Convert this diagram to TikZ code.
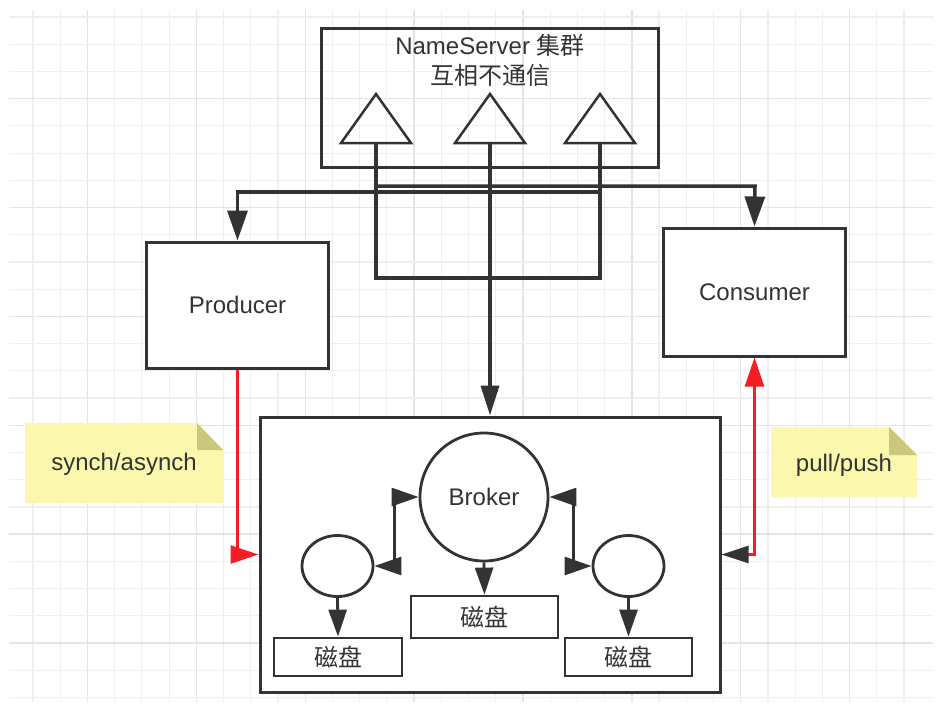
\documentclass[tikz,border=0pt]{standalone}
\usepackage{fontspec}
\setmainfont{Liberation Sans}
\newfontfamily\cjk{Noto Sans CJK SC}
\usetikzlibrary{arrows.meta,shapes.geometric,calc}
\definecolor{ink}{HTML}{333333}
\definecolor{gridminor}{HTML}{EFEFF3}
\definecolor{gridmajor}{HTML}{E3E3E9}
\definecolor{notefill}{HTML}{FBF8AE}
\definecolor{notefold}{HTML}{CAC87C}
\definecolor{redline}{HTML}{F41E25}
\begin{document}
\begin{tikzpicture}[x=1pt,y=-1pt,
  txt/.style={font=\fontsize{24}{30}\selectfont, text=ink, align=center},
  box/.style={draw=ink, line width=3pt, fill=white, inner sep=0pt, txt},
  nsbox/.style={draw=ink, line width=3pt, inner sep=0pt},
  conn/.style={draw=ink, line width=3.5pt},
  thin/.style={draw=ink, line width=2.8pt},
  bigtip/.style={-{Triangle[length=30pt,width=20pt]}},
  smalltip/.style={-{Triangle[length=27pt,width=18pt]}},
  bothtip/.style={{Triangle[length=27pt,width=18pt]}-{Triangle[length=27pt,width=18pt]}},
  redconn/.style={draw=redline, line width=2.5pt},
]
\useasboundingbox (0,0) rectangle (944,716);
\fill[white] (0,0) rectangle (944,716);
% grid
\foreach \i in {0,...,32} {
  \pgfmathsetmacro\xx{33+27.22*\i}
  \pgfmathtruncatemacro\m{mod(\i,4)}
  \ifnum\m=2
    \draw[gridmajor, line width=1.4pt] (\xx,10) -- (\xx,702);
  \else
    \draw[gridminor, line width=1.2pt] (\xx,10) -- (\xx,702);
  \fi
}
\foreach \j in {0,...,25} {
  \pgfmathsetmacro\yy{17+27.22*\j}
  \pgfmathtruncatemacro\m{mod(\j,4)}
  \ifnum\m=3
    \draw[gridmajor, line width=1.4pt] (9,\yy) -- (933,\yy);
  \else
    \draw[gridminor, line width=1.2pt] (9,\yy) -- (933,\yy);
  \fi
}

% NameServer cluster
\node[nsbox, minimum width=337pt, minimum height=139pt] (ns) at (489.5,97.5) {};
\node[txt, anchor=center] (nstext) at (490,60) {NameServer {\cjk 集群}\\{\cjk 互相不通信}};
\draw[ink, line width=2.5pt, line join=miter] (341,143) -- (376,94) -- (411,143) -- cycle;
\draw[ink, line width=2.5pt, line join=miter] (455,143) -- (490,94) -- (525,143) -- cycle;
\draw[ink, line width=2.5pt, line join=miter] (565,143) -- (600,94) -- (635,143) -- cycle;
\coordinate (t1) at (376,143);
\coordinate (t2) at (490,143);
\coordinate (t3) at (600,143);

% Producer / Consumer
\node[box, minimum width=182pt, minimum height=126pt] (prod) at (237.5,305) {Producer};
\node[box, minimum width=182pt, minimum height=128pt] (cons) at (754.5,292) {Consumer};

% Broker group
\node[box, minimum width=460pt, minimum height=275pt] (bbox) at (490,554.5) {};
\node[draw=ink, line width=2.8pt, fill=white, circle, minimum size=128pt, inner sep=0pt, txt] (broker) at (484,497) {Broker};
\node[draw=ink, line width=2.8pt, fill=white, ellipse, minimum width=71pt, minimum height=61pt, inner sep=0pt] (ell1) at (337.5,566) {};
\node[draw=ink, line width=2.8pt, fill=white, ellipse, minimum width=71pt, minimum height=61pt, inner sep=0pt] (ell2) at (628.5,566) {};
\node[box, line width=2.8pt, minimum width=128pt, minimum height=38pt] (disk1) at (338,657) {\cjk 磁盘};
\node[box, line width=2.8pt, minimum width=147pt, minimum height=42pt] (disk2) at (484.5,617) {\cjk 磁盘};
\node[box, line width=2.8pt, minimum width=127pt, minimum height=38pt] (disk3) at (628.5,657) {\cjk 磁盘};

% NameServer connectors
\coordinate (jc) at (755,186);
\coordinate (jp) at (237.5,192);
\draw[conn] (t1) -- (376,278) -| (t3);
\draw[conn, bigtip] (t1) |- (jc) -- (cons.north);
\draw[conn, bigtip] (t3) |- (jp) -- (prod.north);
\draw[conn, -{Triangle[length=30pt,width=18pt]}] (t2) -- (t2 |- bbox.north);

% Broker inner connectors
\draw[thin, smalltip] (broker.south) -- (disk2.north);
\draw[thin, smalltip] (ell1.south) -- (disk1.north);
\draw[thin, smalltip] (ell2.south) -- (disk3.north);
\draw[thin, bothtip] (broker.west) -- ++(-24,0) |- (ell1.east);
\draw[thin, bothtip] (broker.east) -- ++(24,0) |- (ell2.west);

% red connectors
\draw[redconn, -{Triangle[length=28pt,width=18pt,fill=redline]}] (prod.south) |- (bbox.west);
\draw[redconn, {Triangle[length=27pt,width=17pt,color=ink,fill=ink]}-{Triangle[length=29pt,width=19pt]}] (bbox.east) -| (cons.south);

% notes
\fill[notefill] (25,423) -- (197,423) -- (223,450) -- (223,503) -- (25,503) -- cycle;
\fill[notefold] (197,423) -- (197,450) -- (223,450) -- cycle;
\node[txt] (note1) at (124,464) {synch/asynch};
\fill[notefill] (771,427) -- (889,427) -- (917,455) -- (917,497) -- (771,497) -- cycle;
\fill[notefold] (889,427) -- (889,455) -- (917,455) -- cycle;
\node[txt] (note2) at (844,465) {pull/push};
\end{tikzpicture}
\end{document}
